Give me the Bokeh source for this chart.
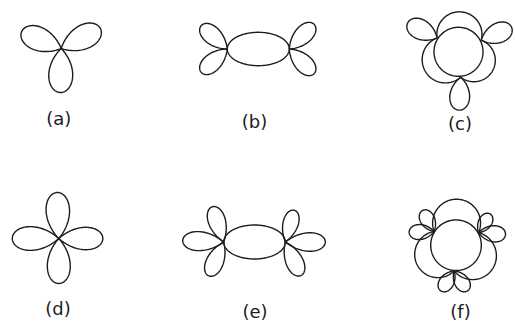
import numpy as np
from bokeh.plotting import figure
from bokeh.models import Range1d
from bokeh.core.properties import value
from bokeh.embed import file_html
from bokeh.resources import INLINE

# ---- shape parameters (angles in degrees, counter-clockwise from +x) ----
LABELS = ["(a)", "(b)", "(c)", "(d)", "(e)", "(f)"]

# (a) three-leaf rose
A_PETAL_ANGLES = [157, 27, 269]
A_PETAL_LENGTHS = [43, 44, 44]

# (b) ellipse with two lobes at each end
B_ELLIPSE_AXES = [31, 16.7]
B_LEFT_ANGLES = [138, 222]
B_RIGHT_ANGLES = [45, -45]
B_PETAL_LENGTHS = [35, 35]

# (c) circle, three outer lobes, one leaf at each junction
C_CIRCLE_RADIUS = 24.5
C_JUNCTION_ANGLES = [147, 27, 275]
C_JUNCTION_RADIUS = 25.5
C_LOBE_APEX = [40, 38.5, 39]
C_PETAL_ANGLES = [153, 23, 267]
C_PETAL_LENGTHS = [33, 33, 33]

# (d) four-leaf rose
D_PETAL_ANGLES = [92, 0, 270, 180]
D_PETAL_LENGTHS = [46, 44, 45, 46.5]

# (e) ellipse with three lobes at each end
E_ELLIPSE_AXES = [30.8, 17]
E_LEFT_ANGLES = [108, 178, 246]
E_LEFT_LENGTHS = [37, 41, 37]
E_RIGHT_ANGLES = [74, 0, -65]
E_RIGHT_LENGTHS = [33, 40, 37]

# (f) circle, three outer lobes, two leaves at each junction
F_CIRCLE_RADIUS = 25.3
F_JUNCTION_ANGLES = [148, 29, 266]
F_JUNCTION_RADIUS = 25.8
F_LOBE_APEX = [46, 43.5, 43.5]
F_PETAL_ANGLES = [[119, 182], [58, -4], [236, 304]]
F_PETAL_LENGTHS = [[24, 25], [22, 27], [24, 24]]

# ---- layout ----
W, H = 515, 322
CENTERS = {
    "a": (60.7, 48.0), "b": (257.8, 48.5), "c": (458.0, 51.3),
    "d": (58.3, 238.0), "e": (254.0, 241.5), "f": (455.5, 244.7),
}
LABEL_POS = [(58.3, 118.0), (254.0, 120.5), (459.5, 123.0),
             (57.5, 308.0), (254.5, 310.5), (460.0, 311.0)]
INK = "#1c1c1c"

xs, ys = [], []


def add(x, y):
    xs.append(list(x))
    ys.append(list(y))


def petal(ox, oy, ang, length, half=42.0, n=90):
    """Closed leaf starting and ending at (ox, oy); screen y grows downward."""
    h = np.radians(half)
    phi = np.linspace(-h, h, n)
    r = length * np.cos(np.pi / 2 * phi / h)
    t = np.radians(ang) + phi
    add(ox + r * np.cos(t), oy - r * np.sin(t))


def ellipse(cx, cy, a, b, n=200):
    t = np.linspace(0, 2 * np.pi, n)
    add(cx + a * np.cos(t), cy + b * np.sin(t))


def circle(cx, cy, r, n=200):
    ellipse(cx, cy, r, r, n)


def lobe(cx, cy, a1, a2, rj, ra, n=120):
    """Circular arc from junction a1 to junction a2 bulging out to radius ra."""
    if a2 < a1:
        a2 += 360
    am = np.radians((a1 + a2) / 2)
    p1 = np.array([rj * np.cos(np.radians(a1)), rj * np.sin(np.radians(a1))])
    p2 = np.array([rj * np.cos(np.radians(a2)), rj * np.sin(np.radians(a2))])
    pa = np.array([ra * np.cos(am), ra * np.sin(am)])
    # circle through three points
    ax_, ay_ = p1
    bx_, by_ = pa
    qx_, qy_ = p2
    d = 2 * (ax_ * (by_ - qy_) + bx_ * (qy_ - ay_) + qx_ * (ay_ - by_))
    ux = ((ax_**2 + ay_**2) * (by_ - qy_) + (bx_**2 + by_**2) * (qy_ - ay_)
          + (qx_**2 + qy_**2) * (ay_ - by_)) / d
    uy = ((ax_**2 + ay_**2) * (qx_ - bx_) + (bx_**2 + by_**2) * (ax_ - qx_)
          + (qx_**2 + qy_**2) * (bx_ - ax_)) / d
    R = np.hypot(ax_ - ux, ay_ - uy)
    t1 = np.arctan2(ay_ - uy, ax_ - ux)
    t2 = np.arctan2(qy_ - uy, qx_ - ux)
    ta = np.arctan2(by_ - uy, bx_ - ux)
    ccw = (t2 - t1) % (2 * np.pi)
    if (ta - t1) % (2 * np.pi) <= ccw:
        t = t1 + np.linspace(0, ccw, n)
    else:
        t = t1 - np.linspace(0, (2 * np.pi) - ccw, n)
    add(cx + ux + R * np.cos(t), cy - (uy + R * np.sin(t)))


def junction(cx, cy, ang, rj):
    return cx + rj * np.cos(np.radians(ang)), cy - rj * np.sin(np.radians(ang))


# (a)
cx, cy = CENTERS["a"]
for ang, ln in zip(A_PETAL_ANGLES, A_PETAL_LENGTHS):
    petal(cx, cy, ang, ln, half=45)

# (b)
cx, cy = CENTERS["b"]
ea, eb = B_ELLIPSE_AXES
ellipse(cx, cy, ea, eb)
for ang, ln in zip(B_LEFT_ANGLES, B_PETAL_LENGTHS):
    petal(cx - ea, cy, ang, ln, half=41)
for ang, ln in zip(B_RIGHT_ANGLES, B_PETAL_LENGTHS):
    petal(cx + ea, cy, ang, ln, half=41)

# (c)
cx, cy = CENTERS["c"]
circle(cx, cy, C_CIRCLE_RADIUS)
ja = C_JUNCTION_ANGLES
pairs = [(ja[1], ja[0]), (ja[0], ja[2]), (ja[2], ja[1])]
for (a1, a2), ra in zip(pairs, C_LOBE_APEX):
    lobe(cx, cy, a1, a2, C_JUNCTION_RADIUS, ra)
for jang, ang, ln in zip(ja, C_PETAL_ANGLES, C_PETAL_LENGTHS):
    jx, jy = junction(cx, cy, jang, C_JUNCTION_RADIUS)
    petal(jx, jy, ang, ln, half=50)

# (d)
cx, cy = CENTERS["d"]
for ang, ln in zip(D_PETAL_ANGLES, D_PETAL_LENGTHS):
    petal(cx, cy, ang, ln, half=42)

# (e)
cx, cy = CENTERS["e"]
ea, eb = E_ELLIPSE_AXES
ellipse(cx, cy, ea, eb)
for ang, ln in zip(E_LEFT_ANGLES, E_LEFT_LENGTHS):
    petal(cx - ea, cy, ang, ln, half=38)
for ang, ln in zip(E_RIGHT_ANGLES, E_RIGHT_LENGTHS):
    petal(cx + ea, cy, ang, ln, half=38)

# (f)
cx, cy = CENTERS["f"]
circle(cx, cy, F_CIRCLE_RADIUS)
ja = F_JUNCTION_ANGLES
pairs = [(ja[1], ja[0]), (ja[0], ja[2]), (ja[2], ja[1])]
for (a1, a2), ra in zip(pairs, F_LOBE_APEX):
    lobe(cx, cy, a1, a2, F_JUNCTION_RADIUS, ra)
for jang, angs, lns in zip(ja, F_PETAL_ANGLES, F_PETAL_LENGTHS):
    jx, jy = junction(cx, cy, jang, F_JUNCTION_RADIUS)
    for ang, ln in zip(angs, lns):
        petal(jx, jy, ang, ln, half=50)

p = figure(width=W, height=H, x_range=Range1d(0, W), y_range=Range1d(H, 0),
           output_backend="svg", toolbar_location=None, min_border=0,
           x_axis_type=None, y_axis_type=None)
p.grid.visible = False
p.outline_line_color = None
p.background_fill_color = "white"
p.border_fill_color = "white"

p.multi_line(xs, ys, line_color=INK, line_width=1.4, line_join="round")

p.text(x=[q[0] for q in LABEL_POS], y=[q[1] for q in LABEL_POS], text=LABELS,
       text_font=value("DejaVu Sans"), text_font_size="18px", text_color=INK,
       text_align="center", text_baseline="middle")

open("out.html", "w").write(file_html(p, INLINE))
